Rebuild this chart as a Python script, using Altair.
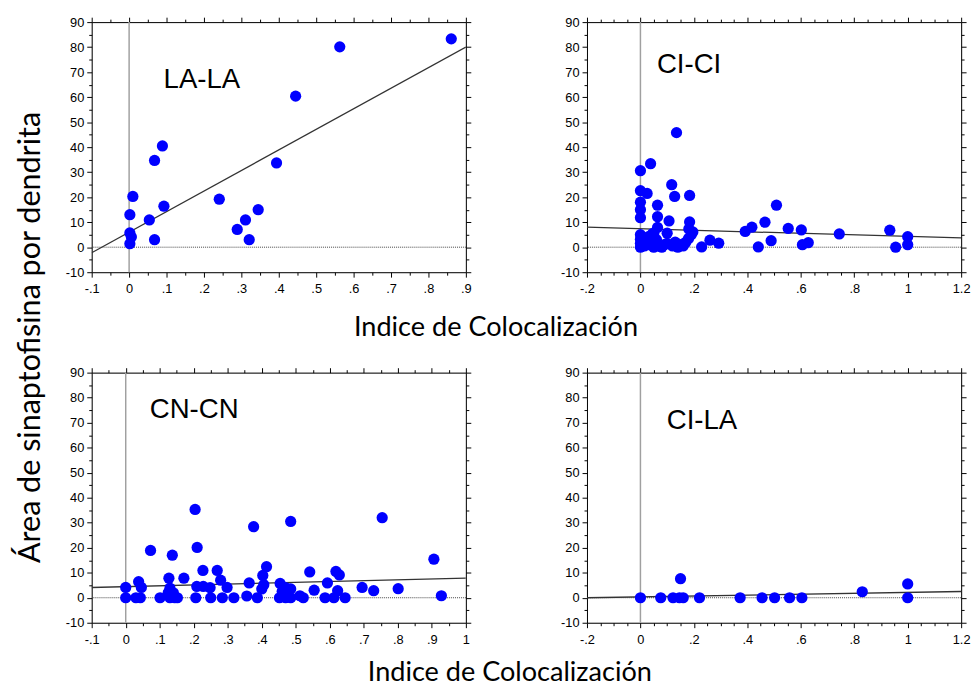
import altair as alt
import pandas as pd

# ---------------- data ----------------
# LA-LA
la_x = [0.861, 0.563, 0.445, 0.394, 0.345, 0.311, 0.289, 0.321, 0.241, 0.089,
        0.068, 0.093, 0.054, 0.068, 0.010, 0.002, 0.002, 0.006, 0.002]
la_y = [83.3, 80.1, 60.4, 33.7, 15.0, 10.9, 7.1, 3.0, 19.2, 40.5,
        34.7, 16.4, 10.9, 3.0, 20.3, 13.0, 5.7, 4.1, 1.4]
la_fit_x = [-0.1, 0.9]
la_fit_y = [-2.2, 80.0]

# CI-CI
ci_x = [0.135, 0.038, 0.0, 0.0, 0.025, 0.117, 0.128, 0.184, 0.0, 0.0, 0.0, 0.064,
        0.064, 0.107, 0.100, 0.184, 0.181, 0.196, 0.064, 0.045,
        0.0, 0.0, 0.0, 0.0, 0.015, 0.02, 0.03, 0.04, 0.05, 0.06, 0.07, 0.08,
        0.10, 0.12, 0.13, 0.14, 0.15, 0.16, 0.17, 0.18, 0.19, 0.05, 0.09,
        0.229, 0.260, 0.293, 0.392, 0.417, 0.466, 0.509, 0.441, 0.489, 0.553,
        0.602, 0.606, 0.628, 0.744, 0.933, 0.955, 1.0, 1.0]
ci_y = [45.8, 33.4, 30.6, 22.6, 21.5, 25.0, 20.3, 20.7, 18.0, 15.0, 11.8, 16.8,
        12.2, 10.5, 5.6, 10.1, 7.3, 6.1, 7.9, 5.4,
        0.0, 1.5, 3.2, 5.0, 0.5, 2.5, 4.2, 0.8, 0.0, 3.0, 0.5, 0.0,
        1.5, 0.5, 2.0, 0.0, 1.0, 0.5, 2.0, 3.5, 5.0, 5.5, 1.0,
        0.1, 2.8, 1.6, 6.3, 8.0, 10.0, 16.8, 0.1, 2.6, 7.5,
        6.9, 1.0, 1.8, 5.3, 6.8, 0.0, 4.2, 1.0]
ci_fit_x = [-0.2, 1.2]
ci_fit_y = [8.0, 3.7]

# CN-CN
cn_x = [0.204, 0.376, 0.485, 0.754, 0.073, 0.137, 0.210, 0.906, 0.928,
        0.127, 0.171, 0.227, 0.269, 0.279, 0.298, 0.363, 0.403, 0.414, 0.406, 0.400,
        0.541, 0.554, 0.593, 0.618, 0.628, 0.623, 0.695, 0.729, 0.801, 0.454, 0.470, 0.485,
        0.0, 0.038, 0.046, 0.130, 0.140, 0.125, 0.209, 0.228, 0.248, 0.460,
        0.0, 0.030, 0.043, 0.101, 0.130, 0.144, 0.152, 0.206, 0.250, 0.284, 0.318,
        0.356, 0.387, 0.452, 0.470, 0.485, 0.512, 0.522, 0.586, 0.612, 0.645]
cn_y = [35.3, 28.4, 30.5, 32.0, 18.9, 17.0, 20.1, 15.4, 0.8,
        7.8, 7.8, 10.9, 10.9, 7.0, 4.1, 5.9, 8.9, 12.4, 5.2, 3.5,
        10.3, 3.0, 5.9, 10.5, 9.1, 2.8, 4.1, 2.8, 3.6, 5.7, 4.0, 3.5,
        4.1, 6.4, 4.1, 3.8, 2.0, 2.0, 4.5, 4.5, 4.0, 2.5,
        0.0, 0.0, 0.0, 0.0, 0.0, 0.0, 0.0, 0.0, 0.0, 0.0, 0.0,
        0.7, 0.0, 0.0, 0.0, 0.0, 0.8, 0.0, 0.0, 0.0, 0.0]
cn_fit_x = [-0.1, 1.0]
cn_fit_y = [4.1, 7.8]

# CI-LA
cl_x = [0.0, 0.076, 0.122, 0.146, 0.160, 0.150, 0.221, 0.373, 0.455, 0.502,
        0.558, 0.604, 0.830, 1.0, 1.0]
cl_y = [0.0, 0.0, 0.0, 0.0, 0.0, 7.6, 0.0, 0.0, 0.0, 0.0,
        0.0, 0.0, 2.4, 5.5, 0.0]
cl_fit_x = [-0.2, 1.2]
cl_fit_y = [0.0, 2.5]

# ---------------- styling ----------------
W, H = 380, 254
AX_FONT = "Liberation Sans"
T_FONT = "Lato"


def x_label_expr(major):
    return (f"({major}) ? (datum.value == 0 ? '0' : (datum.value < 0 ? '-' : '') + "
            "(abs(datum.value) >= 1 ? format(abs(datum.value), '~g') : "
            "substring(format(abs(datum.value), '.1f'), 1))) : ''")


def panel(xs, ys, fx, fy, label, xmin, xmax, per, tx, ty):
    df = pd.DataFrame({"x": xs, "y": ys})
    n = int(round((xmax - xmin) / 0.05))
    xticks = [round(xmin + i * 0.05, 2) for i in range(n + 1)]
    yticks = list(range(-10, 91, 5))
    xmaj = f"abs(datum.value * {per} - round(datum.value * {per})) < 0.001"
    ymaj = "datum.value % 10 == 0"
    xsc = alt.Scale(domain=[xmin, xmax], nice=False, zero=False)
    ysc = alt.Scale(domain=[-10, 90], nice=False, zero=False)
    common = dict(grid=False, title=None, domainColor="black", tickColor="black",
                  labelColor="black", labelFont=AX_FONT, labelFontSize=13,
                  labelOverlap=False, labelFlush=False, domainWidth=1, tickWidth=1)
    xaxis = alt.Axis(orient="bottom", values=xticks, labelExpr=x_label_expr(xmaj),
                     tickSize={"condition": {"test": xmaj, "value": 5}, "value": 3},
                     labelPadding=6, **common)
    yaxis = alt.Axis(orient="left", values=yticks, labelExpr=f"({ymaj}) ? datum.value : ''",
                     tickSize={"condition": {"test": ymaj, "value": 5}, "value": 3},
                     labelPadding=3, **common)
    xtop = alt.Axis(orient="top", values=xticks, labels=False,
                    tickSize={"condition": {"test": xmaj, "value": 5}, "value": 3}, **common)
    yright = alt.Axis(orient="right", values=yticks, labels=False,
                      tickSize={"condition": {"test": ymaj, "value": 5}, "value": 3}, **common)

    mirror = alt.Chart(df).mark_point(opacity=0).encode(
        x=alt.X("x:Q", scale=xsc, axis=xtop), y=alt.Y("y:Q", scale=ysc, axis=yright))
    vline = alt.Chart(pd.DataFrame({"x": [0]})).mark_rule(
        color="#a0a0a0", strokeWidth=1.5).encode(x=alt.X("x:Q", scale=xsc, axis=None))
    hline = alt.Chart(pd.DataFrame({"y": [0]})).mark_rule(
        color="#444444", strokeWidth=1, strokeDash=[1, 1]).encode(
        y=alt.Y("y:Q", scale=ysc, axis=None))
    reg = alt.Chart(pd.DataFrame({"x": fx, "y": fy})).mark_line(
        color="#333333", strokeWidth=1.3, clip=True).encode(
        x=alt.X("x:Q", scale=xsc, axis=None), y=alt.Y("y:Q", scale=ysc, axis=None))
    pts = alt.Chart(df).mark_circle(size=130, color="#0000ff", opacity=1).encode(
        x=alt.X("x:Q", scale=xsc, axis=xaxis), y=alt.Y("y:Q", scale=ysc, axis=yaxis))
    txt = alt.Chart(pd.DataFrame({"t": [label]})).mark_text(
        font=AX_FONT, fontSize=28, align="left", baseline="alphabetic", color="black").encode(
        text="t:N", x=alt.value(tx), y=alt.value(ty))
    return alt.layer(mirror, vline, hline, reg, pts, txt).resolve_axis(
        x="independent", y="independent").properties(width=W, height=H)


p1 = panel(la_x, la_y, la_fit_x, la_fit_y, "LA-LA", -0.1, 0.9, 10, 73, 67)
p2 = panel(ci_x, ci_y, ci_fit_x, ci_fit_y, "CI-CI", -0.2, 1.2, 5, 71, 52)
p3 = panel(cn_x, cn_y, cn_fit_x, cn_fit_y, "CN-CN", -0.1, 1.0, 10, 59, 46)
p4 = panel(cl_x, cl_y, cl_fit_x, cl_fit_y, "CI-LA", -0.2, 1.2, 5, 81, 57)

xt = "Indice de Colocalización"
top = alt.hconcat(p1, p2, spacing=89).properties(
    title=alt.TitleParams(xt, orient="bottom", anchor="middle", font=T_FONT, fontSize=27.5,
                          fontWeight="normal", color="black", offset=18, dx=-22))
bottom = alt.hconcat(p3, p4, spacing=89).properties(
    title=alt.TitleParams(xt, orient="bottom", anchor="middle", font=T_FONT, fontSize=27.5,
                          fontWeight="normal", color="black", offset=13, dx=-8))

chart = alt.vconcat(top, bottom, spacing=25).properties(
    title=alt.TitleParams("Área de sinaptofisina por dendrita", orient="left", anchor="middle",
                          font=T_FONT, fontSize=31, fontWeight="normal", color="black",
                          offset=18, dx=14),
    padding={"left": 7, "top": 2, "right": 0, "bottom": 0},
).configure_view(stroke="black", strokeWidth=1).configure(background="white")

chart.save("out.html", embed_options={"renderer": "svg", "actions": False})
